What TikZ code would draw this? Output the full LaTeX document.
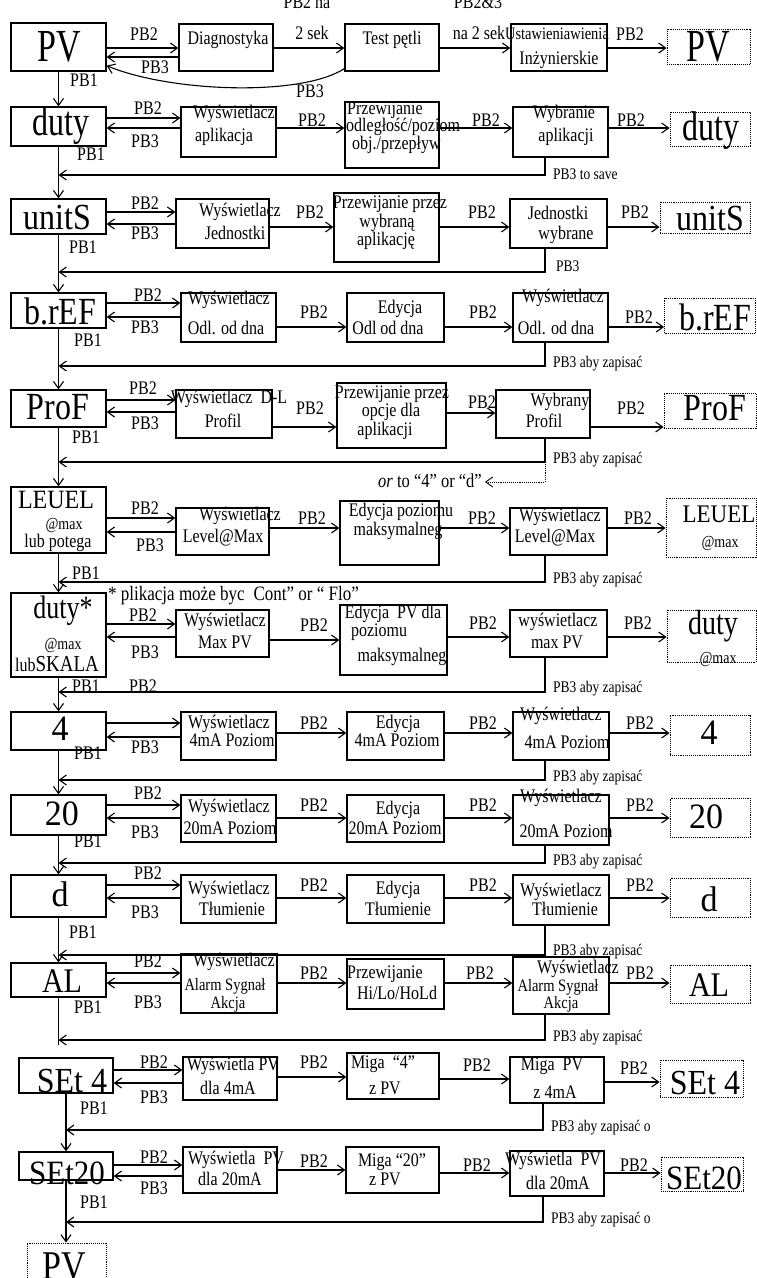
\documentclass[tikz,border=0pt]{standalone}
\usepackage{fontspec}
\setmainfont{Liberation Serif}
\usetikzlibrary{arrows.meta}
\newcommand\mhr[3]{\draw[ar] (#1.east |- 0,#3) -- (#2.west |- 0,#3);}
\newcommand\mhl[3]{\draw[ar] (#1.west |- 0,#3) -- (#2.east |- 0,#3);}
\newcommand\mrt[4]{\draw[ar] (#1.south -| #2,0) |- (#4.south |- 0,#3);}
\newcommand\mtl[3]{\node[tx] (#1) at (#2) {#3};}
\newcommand\mtlo[4]{\node[tx,#2] (#1) at (#3) {#4};}
\newcommand\mpl[3]{\node[lb] (#1) at (#2) {#3};}
\newcommand\msl[3]{\node[sm] (#1) at (#2) {#3};}
\newcommand\mbx[5]{\node[bx,minimum width=#4pt,minimum height=#5pt] (#1) at (#2,#3) {};}
\newcommand\mdb[5]{\node[dbx,minimum width=#4pt,minimum height=#5pt] (#1) at (#2,#3) {};}
\begin{document}
\begin{tikzpicture}[x=1pt,y=-1pt,
  bx/.style={draw,line width=1.3pt,inner sep=0pt},
  dbx/.style={draw,densely dotted,line width=0.9pt,inner sep=0pt},
  ar/.style={line width=1.1pt,-{Straight Barb[length=7pt,width=10pt]}},
  dar/.style={line width=0.9pt,densely dotted,-{Straight Barb[length=7pt,width=10pt]}},
  ln/.style={line width=1.1pt},
  tx/.style={font=\fontsize{16}{17}\selectfont,yscale=1.2,align=center,inner sep=0pt},
  lb/.style={font=\fontsize{16}{17}\selectfont,yscale=1.2,inner sep=0pt},
  sm/.style={font=\fontsize{13.5}{15}\selectfont,yscale=1.2,inner sep=0pt,anchor=west},
  bg/.style={font=\fontsize{32}{34}\selectfont,yscale=#1,inner sep=0pt},
  bg/.default=1.2]
\useasboundingbox (0,0) rectangle (757,1278);

% ---------------- Row 1
\mbx{pv1}{58.5}{47}{95}{48}
\mbx{diag}{226}{47.5}{94}{47}
\mbx{test}{392}{47.5}{94}{47}
\mbx{ust}{559}{47.5}{96}{47}
\mdb{pv1r}{708.5}{46.5}{83}{35}
\node[bg=1.35,font=\fontsize{34}{36}\selectfont] (tpv1) at (59,47) {PV};
\node[bg=1.35,font=\fontsize{34}{36}\selectfont] (tpv1r) at (708,47) {PV};
\mtl{t1a}{228,40}{Diagnostyka}
\mtl{t1b}{392,40}{Test pętli}
\mtlo{t1c}{font=\fontsize{14.5}{16}\selectfont}{557,34}{Ustawieniawienia}
\mtl{t1d}{559,60}{Inżynierskie}
\mpl{l1a}{144,34}{PB2}
\mpl{l1b}{155,67}{PB3}
\mpl{l1c}{307,2}{PB2 na}
\mpl{l1d}{312,33}{2 sek}
\mpl{l1e}{478,2}{PB2\&3}
\mpl{l1f}{479,33}{na 2 sek}
\mpl{l1g}{630,34}{PB2}
\mpl{l1h}{84,80}{PB1}
\mpl{l1i}{310,91}{PB3}
\mhr{pv1}{diag}{48}
\mhl{diag}{pv1}{57}
\mhr{diag}{test}{48}
\mhr{test}{ust}{48}
\mhr{ust}{pv1r}{48}
\draw[ar] ([yshift=3pt]test.south west) .. controls (300,97) and (170,92) .. ([yshift=6pt]pv1.south east);

% ---------------- Row 2
\mbx{duty}{58.5}{126.5}{95}{39}
\mbx{app}{228.5}{132}{95}{50}
\mbx{prz1}{392}{135}{94}{66}
\mbx{wybr}{560.5}{132}{95}{50}
\mdb{dutyr}{710}{129}{80}{34}
\node[bg=1.3] (tduty) at (61,126) {duty};
\node[bg=1.3] (tdutyr) at (711,131) {duty};
\mtl{t2a}{234,114}{Wyświetlacz}
\mtl{t2b}{224,137}{aplikacja}
\mtlo{t2c}{anchor=west}{347,110}{Przewijanie}
\mtlo{t2d}{anchor=west}{346,127}{odległość/poziom}
\mtlo{t2e}{anchor=west}{352,145}{obj./przepływ}
\mtl{t2f}{564,114}{Wybranie}
\mtl{t2g}{566,137}{aplikacji}
\mpl{l2a}{148,108}{PB2}
\mpl{l2b}{145,141}{PB3}
\mpl{l2c}{312,120}{PB2}
\mpl{l2d}{486,120}{PB2}
\mpl{l2e}{631,120}{PB2}
\mpl{l2f}{91,154}{PB1}
\msl{l2g}{553,174}{PB3 to save}
\mhr{duty}{app}{118}
\mhl{app}{duty}{128}
\mhr{app}{prz1}{128}
\mhr{prz1}{wybr}{128}
\mhr{wybr}{dutyr}{128}
\draw[ar] (pv1.south) -- (pv1.south |- duty.north);
\mrt{wybr}{545}{175}{duty}

% ---------------- Row 3
\mbx{units}{58.5}{216.5}{95}{35}
\mbx{jed1}{222.5}{223.5}{93}{49}
\mbx{prz2}{386.5}{227.5}{105}{69}
\mbx{jed2}{558.5}{223.5}{97}{49}
\mdb{unitsr}{705}{217.5}{90}{31}
\node[bg=1.15] (tunits) at (57,217) {unitS};
\node[bg=1.15] (tunitsr) at (710,218) {unitS};
\mtl{t3a}{240,212}{Wyświetlacz}
\mtl{t3b}{235,233}{Jednostki}
\mtl{t3c}{390,204}{Przewijanie przez}
\mtl{t3d}{387,223}{wybraną}
\mtl{t3e}{386,241}{aplikację}
\mtl{t3f}{558,213}{Jednostki}
\mtl{t3g}{566,235}{wybrane}
\mpl{l3a}{145,203}{PB2}
\mpl{l3b}{145,233}{PB3}
\mpl{l3c}{310,212}{PB2}
\mpl{l3d}{482,212}{PB2}
\mpl{l3e}{635,212}{PB2}
\mpl{l3f}{83,247}{PB1}
\msl{l3g}{556,266}{PB3}
\mhr{units}{jed1}{212}
\mhl{jed1}{units}{224}
\mhr{jed1}{prz2}{227}
\mhr{prz2}{jed2}{227}
\mhr{jed2}{unitsr}{227}
\draw[ar] (duty.south) -- (duty.south |- units.north);
\mrt{jed2}{545}{272}{units}

% ---------------- Row 4
\mbx{bref}{58.5}{310.5}{95}{35}
\mbx{odl1}{228.5}{317.5}{95}{49}
\mbx{edy1}{395.5}{317.5}{97}{49}
\mbx{odl2}{560.5}{317.5}{95}{49}
\mdb{brefr}{710}{315.5}{91}{35}
\node[bg] (tbref) at (60,311) {b.rEF};
\node[bg] (tbrefr) at (715,317) {b.rEF};
\mtl{t4a}{229,300}{Wyświetlacz}
\mtl{t4b}{226,328}{Odl. od dna}
\mtl{t4c}{400,309}{Edycja}
\mtl{t4d}{388,328}{Odl od dna}
\mtl{t4e}{563,298}{Wyświetlacz}
\mtl{t4f}{556,328}{Odl. od dna}
\mpl{l4a}{148,295}{PB2}
\mpl{l4b}{145,327}{PB3}
\mpl{l4c}{314,312}{PB2}
\mpl{l4d}{483,312}{PB2}
\mpl{l4e}{639,317}{PB2}
\mpl{l4f}{88,340}{PB1}
\msl{l4g}{553,364}{PB3 aby zapisać}
\mhr{bref}{odl1}{303}
\mhl{odl1}{bref}{317}
\mhr{odl1}{edy1}{327}
\mhr{edy1}{odl2}{327}
\mhr{odl2}{brefr}{327}
\draw[ar] (units.south) -- (units.south |- bref.north);
\mrt{odl2}{545}{366}{bref}

% ---------------- Row 5
\mbx{prof}{58.5}{408.5}{95}{37}
\mbx{dl}{224}{414}{96}{48}
\mbx{prz3}{391.5}{415.5}{109}{65}
\mbx{wp}{543}{414}{94}{48}
\mdb{profr}{710}{410.5}{92}{35}
\node[bg] (tprof) at (58,407) {ProF};
\node[bg] (tprofr) at (715,408) {ProF};
\mtl{t5a}{229,399}{Wyświetlacz~~D-L}
\mtl{t5b}{223,421}{Profil}
\mtl{t5c}{392,394}{Przewijanie przez}
\mtl{t5d}{391,412}{opcje dla}
\mtl{t5e}{385,431}{aplikacji}
\mtl{t5f}{560,402}{Wybrany}
\mtl{t5g}{544,421}{Profil}
\mpl{l5a}{143,388}{PB2}
\mpl{l5b}{145,423}{PB3}
\mpl{l5c}{310,408}{PB2}
\mpl{l5d}{482,402}{PB2}
\mpl{l5e}{631,408}{PB2}
\mpl{l5f}{86,437}{PB1}
\msl{l5g}{553,460}{PB3 aby zapisać}
\node[lb,font=\fontsize{16.5}{18}\selectfont,anchor=east] (l5h) at (482,481) {\textit{or} to “4” or “d”};
\mhr{prof}{dl}{400}
\mhl{dl}{prof}{412}
\mhr{dl}{prz3}{427}
\mhr{prz3}{wp}{413}
\mhr{wp}{profr}{427}
\draw[ar] (bref.south) -- (bref.south |- prof.north);
\coordinate (c5) at (545,462);
\coordinate (or5) at (485,482);
\draw[ar] (wp.south -| c5) -- (c5) -- (prof.south |- c5);
\draw[dar] (c5) |- (or5);

% ---------------- Row 6
\mbx{lev}{58.5}{520}{95}{66}
\mbx{lm1}{222.5}{531.5}{93}{47}
\mbx{edp}{389.5}{533}{99}{64}
\mbx{lm2}{558.5}{531.5}{97}{47}
\mdb{levr}{711}{527.5}{90}{59}
\node[bg=1.1,font=\fontsize{24}{26}\selectfont] (tlev) at (56,500) {LEUEL};
\mtlo{t6x}{font=\fontsize{14}{15}\selectfont}{64,525}{@max}
\mtl{t6y}{58,543}{lub potega}
\node[bg=1.1,font=\fontsize{23}{25}\selectfont] (tlevr) at (719,514) {LEUEL};
\mtlo{t6z}{font=\fontsize{14}{15}\selectfont}{720,543}{@max}
\mtl{t6a}{240,516}{Wyświetlacz}
\mtl{t6b}{223,538}{Level@Max}
\mtl{t6c}{401,512}{Edycja poziomu}
\mtl{t6d}{398,531}{maksymalneg}
\mtl{t6e}{560,517}{Wyświetlacz}
\mtl{t6f}{555,538}{Level@Max}
\mpl{l6a}{145,508}{PB2}
\mpl{l6b}{150,545}{PB3}
\mpl{l6c}{312,518}{PB2}
\mpl{l6d}{482,518}{PB2}
\mpl{l6e}{638,518}{PB2}
\mpl{l6f}{86,573}{PB1}
\msl{l6g}{553,580}{PB3 aby zapisać}
\mhr{lev}{lm1}{518}
\mhl{lm1}{lev}{532}
\mhr{lm1}{edp}{528}
\mhr{edp}{lm2}{528}
\mhr{lm2}{levr}{528}
\draw[ar] (prof.south) -- (prof.south |- lev.north);
\mrt{lm2}{545}{582}{lev}

% ---------------- Row 7
\mbx{dst}{58.5}{635}{95}{84}
\mbx{mpv1}{222.5}{633.5}{93}{47}
\mbx{epv}{393.5}{640}{107}{70}
\mbx{mpv2}{558.5}{633.5}{97}{47}
\mdb{dstr}{711.5}{636}{89}{52}
\node[bg=1.25,font=\fontsize{26}{28}\selectfont] (tdst) at (63,611) {duty*};
\mtlo{t7x}{font=\fontsize{14}{15}\selectfont}{63,645}{@max}
\mtl{t7y}{57,664}{lub{\fontsize{19}{21}\selectfont SKALA}}
\node[bg=1.25,font=\fontsize{28}{30}\selectfont] (tdstr) at (713,626) {duty};
\mtlo{t7z}{font=\fontsize{14}{15}\selectfont}{718,659}{@max}
\node[lb,font=\fontsize{17}{18}\selectfont,anchor=west] (note) at (108,596) {* plikacja może byc\hspace{9pt}Cont” or “ Flo”};
\mtl{t7a}{225,622}{Wyświetlacz}
\mtl{t7b}{225,642}{Max PV}
\mtl{t7c}{393,614}{Edycja~~PV dla}
\mtl{t7d}{379,632}{poziomu}
\mtl{t7e}{402,657}{maksymalneg}
\mtl{t7f}{558,622}{wyświetlacz}
\mtl{t7g}{557,642}{max PV}
\mpl{l7a}{143,615}{PB2}
\mpl{l7b}{145,652}{PB3}
\mpl{l7c}{314,625}{PB2}
\mpl{l7d}{483,623}{PB2}
\mpl{l7e}{638,623}{PB2}
\mpl{l7f}{86,686}{PB1}
\mpl{l7g}{143,686}{PB2}
\msl{l7h}{553,689}{PB3 aby zapisać}
\mhr{dst}{mpv1}{624}
\mhl{mpv1}{dst}{637}
\mhr{mpv1}{epv}{640}
\mhr{epv}{mpv2}{637}
\mhr{mpv2}{dstr}{637}
\draw[ar] (lev.south) -- (lev.south |- dst.north);
\mrt{mpv2}{545}{692}{dst}

% ---------------- Row 8
\mbx{b4}{58.5}{731}{95}{38}
\mbx{w4a}{228.5}{736}{95}{48}
\mbx{e4a}{395.5}{736}{97}{48}
\mbx{w4b}{561}{736}{96}{48}
\mdb{b4r}{710}{735}{80}{40}
\node[bg=1.05,font=\fontsize{34}{36}\selectfont] (t4big) at (60,729) {4};
\node[bg=1.05,font=\fontsize{34}{36}\selectfont] (t4bigr) at (709,733) {4};
\mtl{t8a}{229,724}{Wyświetlacz}
\mtl{t8b}{232,740}{4mA Poziom}
\mtl{t8c}{398,724}{Edycja}
\mtl{t8d}{397,740}{4mA Poziom}
\mtl{t8e}{561,716}{Wyświetlacz}
\mtl{t8f}{567,742}{4mA Poziom}
\mpl{l8b}{145,747}{PB3}
\mpl{l8c}{314,723}{PB2}
\mpl{l8d}{483,723}{PB2}
\mpl{l8e}{640,723}{PB2}
\mpl{l8f}{88,753}{PB1}
\msl{l8g}{553,778}{PB3 aby zapisać}
\mhr{b4}{w4a}{723}
\mhl{w4a}{b4}{737}
\mhr{w4a}{e4a}{733}
\mhr{e4a}{w4b}{733}
\mhr{w4b}{b4r}{733}
\draw[ar] (dst.south) -- (dst.south |- b4.north);
\mrt{w4b}{545}{780}{b4}

% ---------------- Row 9
\mbx{b20}{58.5}{815}{95}{40}
\mbx{w20a}{228.5}{818.5}{95}{47}
\mbx{e20}{395.5}{818.5}{97}{47}
\mbx{w20b}{561}{820}{96}{50}
\mdb{b20r}{710}{817.5}{80}{39}
\node[bg=1.05,font=\fontsize{34}{36}\selectfont] (t20) at (62,814) {20};
\node[bg=1.05,font=\fontsize{34}{36}\selectfont] (t20r) at (706,817) {20};
\mtl{t9a}{229,808}{Wyświetlacz}
\mtl{t9b}{230,828}{20mA Poziom}
\mtl{t9c}{398,810}{Edycja}
\mtl{t9d}{395,828}{20mA Poziom}
\mtl{t9e}{561,798}{Wyświetlacz}
\mtl{t9f}{566,831}{20mA Poziom}
\mpl{l9a}{148,793}{PB2}
\mpl{l9b}{145,832}{PB3}
\mpl{l9c}{314,805}{PB2}
\mpl{l9d}{483,805}{PB2}
\mpl{l9e}{640,805}{PB2}
\mpl{l9f}{88,841}{PB1}
\msl{l9g}{553,862}{PB3 aby zapisać}
\mhr{b20}{w20a}{805}
\mhl{w20a}{b20}{818}
\mhr{w20a}{e20}{818}
\mhr{e20}{w20b}{818}
\mhr{w20b}{b20r}{818}
\draw[ar] (b4.south) -- (b4.south |- b20.north);
\mrt{w20b}{545}{863}{b20}

% ---------------- Row 10
\mbx{bd}{58.5}{896}{95}{42}
\mbx{wt1}{228.5}{899}{95}{48}
\mbx{et}{395.5}{899}{97}{48}
\mbx{wt2}{561}{900}{96}{50}
\mdb{bdr}{710}{897.5}{80}{39}
\node[bg=1.05,font=\fontsize{34}{36}\selectfont] (td) at (60,894) {d};
\node[bg=1.05,font=\fontsize{34}{36}\selectfont] (tdr) at (709,899) {d};
\mtl{t10a}{229,890}{Wyświetlacz}
\mtl{t10b}{232,909}{Tłumienie}
\mtl{t10c}{398,890}{Edycja}
\mtl{t10d}{398,909}{Tłumienie}
\mtl{t10e}{561,892}{Wyświetlacz}
\mtl{t10f}{565,909}{Tłumienie}
\mpl{l10a}{148,873}{PB2}
\mpl{l10b}{145,912}{PB3}
\mpl{l10c}{314,885}{PB2}
\mpl{l10d}{483,885}{PB2}
\mpl{l10e}{640,885}{PB2}
\mpl{l10f}{83,932}{PB1}
\msl{l10g}{553,952}{PB3 aby zapisać}
\mhr{bd}{wt1}{885}
\mhl{wt1}{bd}{898}
\mhr{wt1}{et}{898}
\mhr{et}{wt2}{898}
\mhr{wt2}{bdr}{898}
\draw[ar] (b20.south) -- (b20.south |- bd.north);
\mrt{wt2}{545}{955}{bd}

% ---------------- Row 11
\mbx{bal}{58.5}{980}{95}{34}
\mbx{wa1}{229}{983.5}{96}{59}
\mbx{hl}{395.5}{984}{97}{50}
\mbx{wa2}{561}{985.5}{96}{57}
\mdb{balr}{710}{984}{80}{38}
\node[bg=1.15,font=\fontsize{30}{32}\selectfont] (tal) at (62,981) {AL};
\node[bg=1.15,font=\fontsize{30}{32}\selectfont] (talr) at (709,985) {AL};
\mtl{t11a}{234,962}{Wyświetlacz}
\mtlo{t11b}{font=\fontsize{14.5}{16}\selectfont}{225,986}{Alarm Sygnał}
\mtlo{t11c}{font=\fontsize{14.5}{16}\selectfont}{228,1004}{Akcja}
\mtl{t11d}{385,974}{Przewijanie}
\mtl{t11e}{397,993}{Hi/Lo/HoLd}
\mtl{t11f}{578,969}{Wyświetlacz}
\mtlo{t11g}{font=\fontsize{14.5}{16}\selectfont}{558,987}{Alarm Sygnał}
\mtlo{t11h}{font=\fontsize{14.5}{16}\selectfont}{561,1004}{Akcja}
\mpl{l11a}{148,961}{PB2}
\mpl{l11b}{148,1002}{PB3}
\mpl{l11c}{314,973}{PB2}
\mpl{l11d}{480,973}{PB2}
\mpl{l11e}{640,973}{PB2}
\mpl{l11f}{88,1007}{PB1}
\msl{l11g}{553,1038}{PB3 aby zapisać}
\mhr{bal}{wa1}{973}
\mhl{wa1}{bal}{983}
\mhr{wa1}{hl}{983}
\mhr{hl}{wa2}{983}
\mhr{wa2}{balr}{983}
\draw[ar] (bd.south) -- (bd.south |- bal.north);
\draw[ln] (bal.south) -- (bal.south |- 0,1045);
\mrt{wa2}{545}{1040}{bal}

% ---------------- Row 12
\mbx{s4}{66}{1075.5}{94}{35}
\mbx{wp4}{230}{1078.5}{94}{43}
\mbx{m4}{393}{1076}{92}{46}
\mbx{mp4}{557}{1080}{94}{46}
\mdb{s4r}{701.5}{1078.5}{83}{37}
\node[bg=1.1,font=\fontsize{32}{34}\selectfont] (ts4) at (72,1081) {SEt 4};
\node[bg=1.1,font=\fontsize{32}{34}\selectfont] (ts4r) at (705,1083) {SEt 4};
\mtl{t12a}{233,1066}{Wyświetla PV}
\mtl{t12b}{228,1088}{dla 4mA}
\mtl{t12c}{383,1064}{Miga~~“4”}
\mtl{t12d}{385,1088}{z PV}
\mtl{t12e}{552,1066}{Miga~~PV}
\mtl{t12f}{555,1092}{z 4mA}
\mpl{l12a}{154,1062}{PB2}
\mpl{l12b}{154,1097}{PB3}
\mpl{l12c}{314,1062}{PB2}
\mpl{l12d}{477,1065}{PB2}
\mpl{l12e}{634,1068}{PB2}
\mpl{l12f}{94,1108}{PB1}
\msl{l12g}{551,1128}{PB3 aby zapisać o}
\mhr{s4}{wp4}{1070}
\mhl{wp4}{s4}{1083}
\mhr{wp4}{m4}{1077}
\mhr{m4}{mp4}{1079}
\mhr{mp4}{s4r}{1082}
\mrt{mp4}{543}{1130}{s4}

% ---------------- Row 13
\mbx{s20}{66}{1166}{94}{28}
\mbx{wp20}{230}{1170}{94}{46}
\mbx{m20}{392.5}{1170}{93}{46}
\mbx{mp20}{557}{1173.5}{94}{45}
\mdb{s20r}{702}{1174}{82}{34}
\node[bg=1.1,font=\fontsize{31}{33}\selectfont] (ts20) at (67,1173) {SEt20};
\node[bg=1.1,font=\fontsize{31}{33}\selectfont] (ts20r) at (704,1178) {SEt20};
\mtl{t13a}{236,1160}{Wyświetla~~PV}
\mtl{t13b}{230,1179}{dla 20mA}
\mtl{t13c}{392,1162}{Miga “20”}
\mtl{t13d}{385,1179}{z PV}
\mtl{t13e}{553,1161}{Wyświetla~~PV}
\mtl{t13f}{558,1183}{dla 20mA}
\mpl{l13a}{154,1157}{PB2}
\mpl{l13b}{154,1188}{PB3}
\mpl{l13c}{314,1161}{PB2}
\mpl{l13d}{477,1165}{PB2}
\mpl{l13e}{634,1165}{PB2}
\mpl{l13f}{94,1202}{PB1}
\msl{l13g}{551,1220}{PB3 aby zapisać o}
\mhr{s20}{wp20}{1165}
\mhl{wp20}{s20}{1176}
\mhr{wp20}{m20}{1170}
\mhr{m20}{mp20}{1173}
\mhr{mp20}{s20r}{1173}
\draw[ar] (s4.south) -- (s4.south |- s20.north);
\mrt{mp20}{543}{1222}{s20}

% ---------------- Final
\mdb{pvf}{66.5}{1264}{79}{42}
\node[bg=1.2,font=\fontsize{34}{36}\selectfont] (tpvf) at (64,1266) {PV};
\draw[ar] (s20.south) -- (s20.south |- pvf.north);
\end{tikzpicture}
\end{document}
